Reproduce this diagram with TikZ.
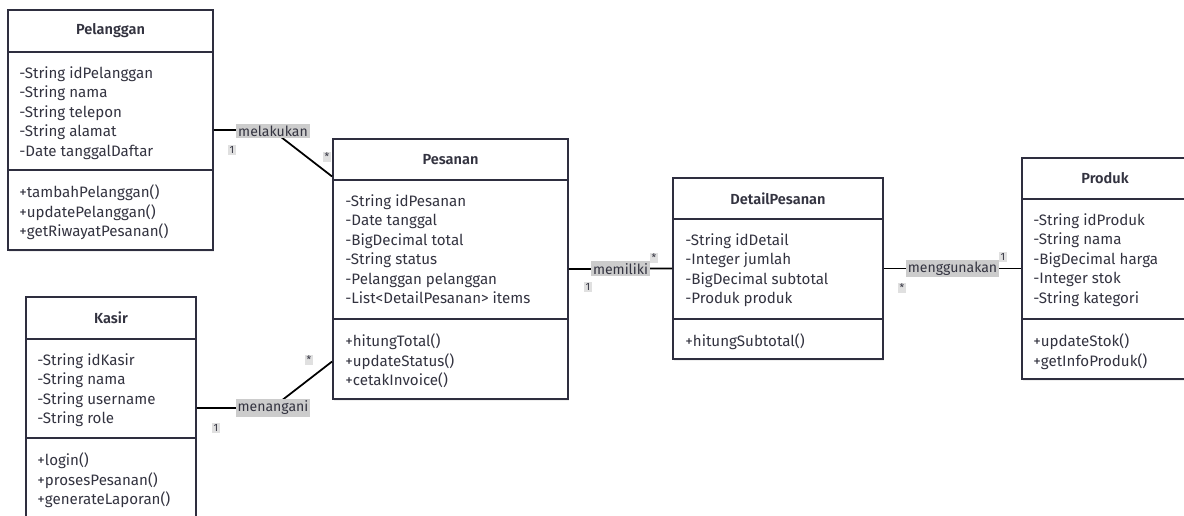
\documentclass[tikz,border=0pt]{standalone}
\usepackage{fontspec}
\setmainfont{Fira Sans}
\newfontfamily\titlefont{Fira Sans SemiBold}
\usetikzlibrary{fit,shadows}
\definecolor{umlline}{HTML}{2E2E3F}
\definecolor{umltext}{HTML}{333340}
\definecolor{tagfill}{HTML}{CCCCCC}
\tikzset{
  classbox/.style={draw=umlline,line width=1.1pt,inner sep=0pt,fill=white,
    drop shadow={shadow xshift=0.8pt,shadow yshift=-1.2pt,opacity=0.12}},
  divider/.style={umlline,line width=0.8pt},
  member/.style={anchor=west,inner sep=0pt,text height=7.5pt,text depth=2pt,text=umltext},
  classname/.style={inner sep=0pt,font=\titlefont\fontsize{8.3}{10}\selectfont,text=umltext},
  assoc/.style={line width=1pt,black},
  tag/.style={fill=tagfill,inner sep=1.2pt,font=\fontsize{8}{10}\selectfont,text=umltext},
  mult/.style={fill=tagfill!60,inner sep=0.8pt,font=\fontsize{6}{7}\selectfont,text=umltext}
}
\begin{document}
\begin{tikzpicture}[x=0.02cm,y=-0.02cm,font=\fontsize{8.6}{10}\selectfont]
\clip (0,0) rectangle (1184,515);
\fill [white] (0,0) rectangle (1184,515);
% classes
\foreach \n/\xa/\ya/\xb/\yb/\da/\db/\title in {pel/8/10/213/250/52/170/Pelanggan,kas/26/297/196/530/339/438/Kasir,pes/333/139/568/399/180/319/Pesanan,det/673/178/883/359/219/319/DetailPesanan,prod/1022/158/1188/379/199/319/Produk} {
  \node [classbox,fit={(\xa,\ya) (\xb,\yb)}] (\n) {};
  \draw [divider] (\xa,\da) -- (\xb,\da) (\xa,\db) -- (\xb,\db);
  \node [classname] (\n-title) at ({(\xa+\xb)/2},{(\ya+\da)/2}) {\title};
}
% attributes and methods
\foreach \t [count=\i] in {-String idPelanggan,-String nama,-String telepon,-String alamat,-Date tanggalDaftar}
  \node [member] (pel-a\i) at (19,54+19.5*\i) {\t};
\foreach \t [count=\i] in {+tambahPelanggan(),+updatePelanggan(),+getRiwayatPesanan()}
  \node [member] (pel-m\i) at (19,173.5+19.5*\i) {\t};
\foreach \t [count=\i] in {-String idKasir,-String nama,-String username,-String role}
  \node [member] (kas-a\i) at (37,341+19.5*\i) {\t};
\foreach \t [count=\i] in {+login(),+prosesPesanan(),+generateLaporan()}
  \node [member] (kas-m\i) at (37,441.5+19.5*\i) {\t};
\foreach \t [count=\i] in {-String idPesanan,-Date tanggal,-BigDecimal total,-String status,-Pelanggan pelanggan,-List<DetailPesanan> items}
  \node [member] (pes-a\i) at (345,182+19.5*\i) {\t};
\foreach \t [count=\i] in {+hitungTotal(),+updateStatus(),+cetakInvoice()}
  \node [member] (pes-m\i) at (345,322.5+19.5*\i) {\t};
\foreach \t [count=\i] in {-String idDetail,-Integer jumlah,-BigDecimal subtotal,-Produk produk}
  \node [member] (det-a\i) at (685,221+19.5*\i) {\t};
\foreach \t [count=\i] in {+hitungSubtotal()}
  \node [member] (det-m\i) at (685,322.5+19.5*\i) {\t};
\foreach \t [count=\i] in {-String idProduk,-String nama,-BigDecimal harga,-Integer stok,-String kategori}
  \node [member] (prod-a\i) at (1033,201+19.5*\i) {\t};
\foreach \t [count=\i] in {+updateStok(),+getInfoProduk()}
  \node [member] (prod-m\i) at (1033,322.5+19.5*\i) {\t};
% associations
\coordinate (melakukan-k) at (272,130);
\coordinate (menangani-k) at (272,408);
\draw [assoc] (pel.east) -- (melakukan-k) -- (pes.142);
\node [tag] (melakukan) at (273,131) {melakukan};
\draw [assoc] (kas.east |- menangani-k) -- (menangani-k) -- (pes.218);
\node [tag] (menangani) at (273,408) {menangani};
\draw [assoc] (pes.east) -- (det.west) node [tag,midway] (memiliki) {memiliki};
\draw [assoc] (det.east) -- (prod.west) node [tag,midway] (menggunakan) {menggunakan};
% multiplicities
\foreach \m/\x/\y/\label in {m1/232/150/1,m2/327/157/*,m3/216/428/1,m4/309/360/*,m5/588/287/1,m6/654/258/*,m7/902/288/*,m8/1003/257/1}
  \node [mult] (\m) at (\x,\y) {\label};
\end{tikzpicture}
\end{document}
